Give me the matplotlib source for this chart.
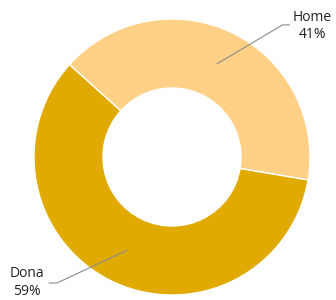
import numpy as np
import matplotlib
matplotlib.use("Agg")
import matplotlib.pyplot as plt

categories = ["Home", "Dona"]
values = [41, 59]
colors = ["#FFD085", "#E0AA00"]

fig = plt.figure(figsize=(3.36, 3.0), dpi=100)
ax = fig.add_axes([34/336, 5/300, 276/336, 276/300])
start = 138.0
wedges, _ = ax.pie(values, colors=colors, startangle=start, counterclock=False,
                   radius=1.0, wedgeprops=dict(width=0.5, edgecolor="white", linewidth=1))
ax.set_xlim(-1, 1)
ax.set_ylim(-1, 1)
ax.set_aspect("equal")
ax.axis("off")

label_pos = [((1.015, 0.95), (0.80, 0.957), (0.85, 0.957)),
             ((-1.05, -0.91), (-0.833, -0.913), (-0.89, -0.913))]
for w, cat, val, (tpos, elbow, end) in zip(wedges, categories, values, label_pos):
    ang = np.deg2rad((w.theta1 + w.theta2) / 2)
    r = 0.75
    px, py = r * np.cos(ang), r * np.sin(ang)
    ax.plot([px, elbow[0], end[0]], [py, elbow[1], end[1]], color="#8c8c8c", lw=0.8,
            clip_on=False)
    ax.text(tpos[0], tpos[1], f"{cat}\n{val}%", ha="center", va="center",
            fontsize=10, family="Open Sans", color="#222222", linespacing=1.25)

fig.savefig("out.png", dpi=100)
